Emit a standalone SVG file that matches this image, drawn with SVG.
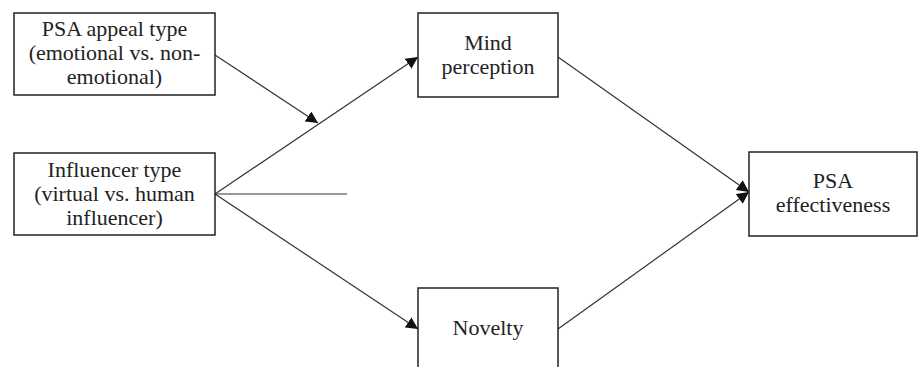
<svg xmlns="http://www.w3.org/2000/svg" width="918" height="367" viewBox="0 0 918 367">
<style>
.box{fill:#fff;stroke:#222;stroke-width:1.5}
.t{font-family:'Liberation Serif','Times New Roman','DejaVu Serif',serif;font-size:22px;fill:#222;text-anchor:middle}
.c{stroke:#333;stroke-width:1.2;fill:none}
</style>
<defs>
<marker id="ah" viewBox="0 0 10 10" refX="10" refY="5" markerWidth="12" markerHeight="12" markerUnits="userSpaceOnUse" orient="auto">
<path d="M0,0 L10,5 L0,10 z" fill="#111"/>
</marker>
</defs>
<rect width="918" height="367" fill="#fff"/>
<g id="connectors">
<line class="c" x1="215" y1="55" x2="318" y2="123" marker-end="url(#ah)"/>
<line class="c" x1="215" y1="194" x2="418" y2="57" marker-end="url(#ah)"/>
<line class="c" x1="215" y1="194" x2="418" y2="329" marker-end="url(#ah)"/>
<line class="c" x1="215" y1="194" x2="347" y2="194" stroke="#777"/>
<line class="c" x1="558" y1="57" x2="749" y2="192" marker-end="url(#ah)"/>
<line class="c" x1="558" y1="329" x2="749" y2="192" marker-end="url(#ah)"/>
</g>
<g id="appeal">
<rect class="box" x="14" y="13" width="201" height="82"/>
<text class="t" x="114.5" y="36">PSA appeal type</text>
<text class="t" x="114.5" y="60">(emotional vs. non-</text>
<text class="t" x="114.5" y="84">emotional)</text>
</g>
<g id="influencer">
<rect class="box" x="14" y="153" width="201" height="82"/>
<text class="t" x="114.5" y="177">Influencer type</text>
<text class="t" x="114.5" y="201">(virtual vs. human</text>
<text class="t" x="114.5" y="225">influencer)</text>
</g>
<g id="mind">
<rect class="box" x="418" y="13" width="140" height="84"/>
<text class="t" x="488" y="50">Mind</text>
<text class="t" x="488" y="74">perception</text>
</g>
<g id="novelty">
<rect class="box" x="418" y="288" width="140" height="90"/>
<text class="t" x="488" y="335">Novelty</text>
</g>
<g id="effect">
<rect class="box" x="749" y="152" width="168" height="84"/>
<text class="t" x="833" y="188">PSA</text>
<text class="t" x="833" y="212">effectiveness</text>
</g>
</svg>
